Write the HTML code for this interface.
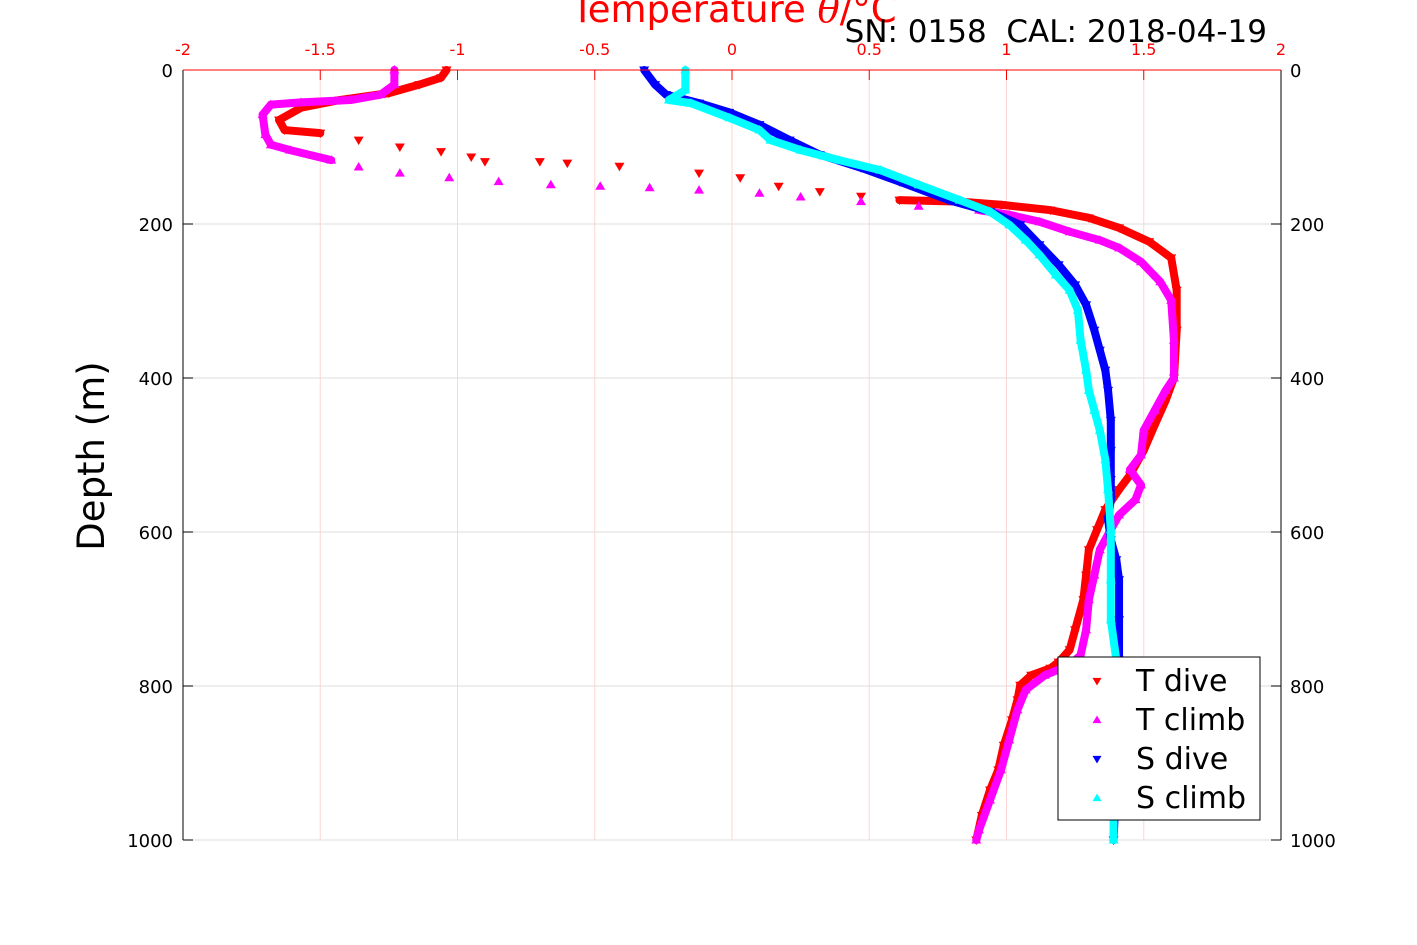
<!DOCTYPE html>
<html><head><meta charset="utf-8"><style>
body{margin:0;background:#fff;}
svg{display:block;font-family:"DejaVu Sans","Liberation Sans",sans-serif;}
</style></head><body>
<svg id="chart" width="1417" height="945" viewBox="0 0 1417 945" xmlns="http://www.w3.org/2000/svg">
<g id="grid"></g>
<g id="series"></g>
<g id="axes"></g>
<text x="734" y="22" text-anchor="middle" font-size="37" fill="#ff0000">Temperature <tspan font-style="italic" font-family="DejaVu Serif,serif">θ</tspan>/°C</text>
<text x="1267" y="42" text-anchor="end" font-size="31" fill="#000" xml:space="preserve">SN: 0158  CAL: 2018-04-19</text>
<text transform="translate(104,456) rotate(-90)" text-anchor="middle" font-size="37" fill="#000">Depth (m)</text>
<g id="legend"></g>
</svg>
<script>
const xTicks=[-2,-1.5,-1,-0.5,0,0.5,1,1.5,2];
const xTickLabels=["-2","-1.5","-1","-0.5","0","0.5","1","1.5","2"];
const yTicks=[0,200,400,600,800,1000];
const seriesNames=["T dive","T climb","S dive","S climb"];
const tDiveX=[-1.04,-1.06,-1.14,-1.25,-1.43,-1.57,-1.65,-1.63,-1.50,-1.36,-1.21,-1.06,-0.95,-0.90,-0.70,-0.60,-0.41,-0.12,0.03,0.17,0.32,0.47,0.61,0.83,0.98,1.16,1.30,1.41,1.52,1.60,1.62,1.62,1.61,1.58,1.54,1.50,1.45,1.41,1.36,1.33,1.30,1.29,1.28,1.25,1.23,1.19,1.16,1.09,1.05,1.04,1.02,0.99,0.97,0.94,0.91,0.89];
const tDiveD=[0,10,19,30,39,49,65,78,82,91,100,106,113,119,119,121,125,134,140,151,158,164,169,171,175,182,192,205,223,244,286,338,400,429,461,494,526,545,571,597,623,656,688,727,753,769,777,786,799,818,844,877,909,935,968,1000];
const tClimbX=[-1.23,-1.23,-1.28,-1.39,-1.57,-1.68,-1.71,-1.70,-1.68,-1.61,-1.46,-1.36,-1.21,-1.03,-0.85,-0.66,-0.48,-0.30,-0.12,0.10,0.25,0.47,0.68,0.90,1.01,1.12,1.23,1.34,1.41,1.49,1.56,1.60,1.61,1.61,1.58,1.54,1.50,1.49,1.45,1.49,1.47,1.41,1.38,1.34,1.32,1.30,1.29,1.27,1.23,1.14,1.07,1.04,1.01,0.98,0.94,0.90,0.89];
const tClimbD=[0,19,32,39,42,45,58,84,97,104,117,126,134,140,145,149,151,153,156,160,165,171,177,182,188,197,210,221,231,249,275,299,351,400,416,442,468,500,519,539,558,578,597,623,656,688,727,760,773,786,805,831,870,909,948,987,1000];
const sDiveX=[-0.32,-0.28,-0.24,-0.12,-0.01,0.10,0.21,0.32,0.47,0.61,0.79,0.94,1.05,1.12,1.19,1.25,1.29,1.32,1.34,1.36,1.37,1.38,1.38,1.38,1.38,1.37,1.38,1.40,1.41,1.41,1.41,1.41,1.40,1.40,1.39];
const sDiveD=[0,19,32,43,55,71,91,110,127,145,169,184,201,227,253,279,305,338,364,390,416,455,494,532,558,584,610,636,662,714,766,818,870,922,1000];
const sClimbX=[-0.17,-0.17,-0.23,-0.15,-0.01,0.10,0.14,0.25,0.39,0.54,0.68,0.83,0.94,1.01,1.07,1.12,1.18,1.23,1.26,1.27,1.29,1.30,1.32,1.34,1.36,1.37,1.38,1.38,1.38,1.40,1.40,1.39,1.39];
const sClimbD=[0,26,39,43,62,78,91,104,117,130,149,169,184,201,221,240,266,286,312,351,390,416,442,468,506,545,597,662,714,766,818,948,1000];

const NS="http://www.w3.org/2000/svg";
const L=183,R=1281,T=70,B=840;
const xs=v=>L+(v+2)/4*(R-L);
const ys=d=>T+d/1000*(B-T);
function mk(tag,attrs,parent){const e=document.createElementNS(NS,tag);for(const k in attrs)e.setAttribute(k,attrs[k]);parent.appendChild(e);return e;}
const grid=document.getElementById('grid'),axes=document.getElementById('axes'),ser=document.getElementById('series'),leg=document.getElementById('legend');
xTicks.forEach((v,i)=>{
  const x=xs(v);
  const g=mk('line',{x1:x,y1:T,x2:x,y2:B,stroke:'#ffd6d6','stroke-width':1},grid);
  
  
  const t=mk('line',{x1:x,y1:T,x2:x,y2:T+10,stroke:'#ff0000','stroke-width':1},axes);
  
  
  const lb=mk('text',{x:x,y:55,'text-anchor':'middle','font-size':16,fill:'#ff0000'},axes);
  lb.textContent=xTickLabels[i];
  
  
});
yTicks.forEach(d=>{
  const y=ys(d);
  const g=mk('line',{x1:L,y1:y,x2:R,y2:y,stroke:'#dcdcdc','stroke-width':1},grid);
  
  
  const t1=mk('line',{x1:L,y1:y,x2:L+10,y2:y,stroke:'#000'},axes);
  
  
  const t2=mk('line',{x1:R-10,y1:y,x2:R,y2:y,stroke:'#000'},axes);
  
  
  const a=mk('text',{x:L-10,y:y+7,'text-anchor':'end','font-size':18,fill:'#000'},axes);
  a.textContent=d;
  
  
  const b=mk('text',{x:R+9,y:y+7,'text-anchor':'start','font-size':18,fill:'#000'},axes);
  b.textContent=d;
  
  
});
const la=mk('line',{x1:L,y1:T,x2:L,y2:B,stroke:'#000'},axes);


const ra=mk('line',{x1:R,y1:T,x2:R,y2:B,stroke:'#000'},axes);


const ta=mk('line',{x1:L,y1:T,x2:R,y2:T,stroke:'#ff0000'},axes);



function tri(x,y,down,s){return down?`${x-s},${y-s*0.7} ${x+s},${y-s*0.7} ${x},${y+s}`:`${x-s},${y+s*0.7} ${x+s},${y+s*0.7} ${x},${y-s}`;}
// sparse depth window: inside it the instrument samples are spread out, so only markers are drawn
function drawSeries(X,D,color,down,name,sparseFrom,sparseTo){
  const g=mk('g',{},ser);
  
  
  for(let i=0;i<X.length-1;i++){
    if(D[i]>=sparseFrom && D[i+1]<=sparseTo) continue;
    const x1=xs(X[i]),y1=ys(D[i]),x2=xs(X[i+1]),y2=ys(D[i+1]);
    const l=mk('line',{x1:x1,y1:y1,x2:x2,y2:y2,stroke:color,'stroke-width':8,'stroke-linecap':'round'},g);
    
    
  }
  X.forEach((v,i)=>{
    const p=mk('polygon',{points:tri(xs(v),ys(D[i]),down,5),fill:color},g);
    
    
  });
}
drawSeries(tDiveX,tDiveD,'#ff0000',true,'t-dive-series',80,170);
drawSeries(tClimbX,tClimbD,'#ff00ff',false,'t-climb-series',117,182);
drawSeries(sDiveX,sDiveD,'#0000ff',true,'s-dive-series',9999,9999);
drawSeries(sClimbX,sClimbD,'#00ffff',false,'s-climb-series',9999,9999);

const box=mk('rect',{x:1058,y:657,width:202,height:163,fill:'#fff',stroke:'#000'},leg);


const cols=['#ff0000','#ff00ff','#0000ff','#00ffff'],downs=[true,false,true,false];
seriesNames.forEach((n,i)=>{
  const y=681+i*39;
  const m=mk('polygon',{points:tri(1097,y,downs[i],4.5),fill:cols[i]},leg);
  
  
  const t=mk('text',{x:1136,y:y+10,'font-size':30,fill:'#000'},leg);
  t.textContent=n;
  
  
});
</script>
</body></html>
